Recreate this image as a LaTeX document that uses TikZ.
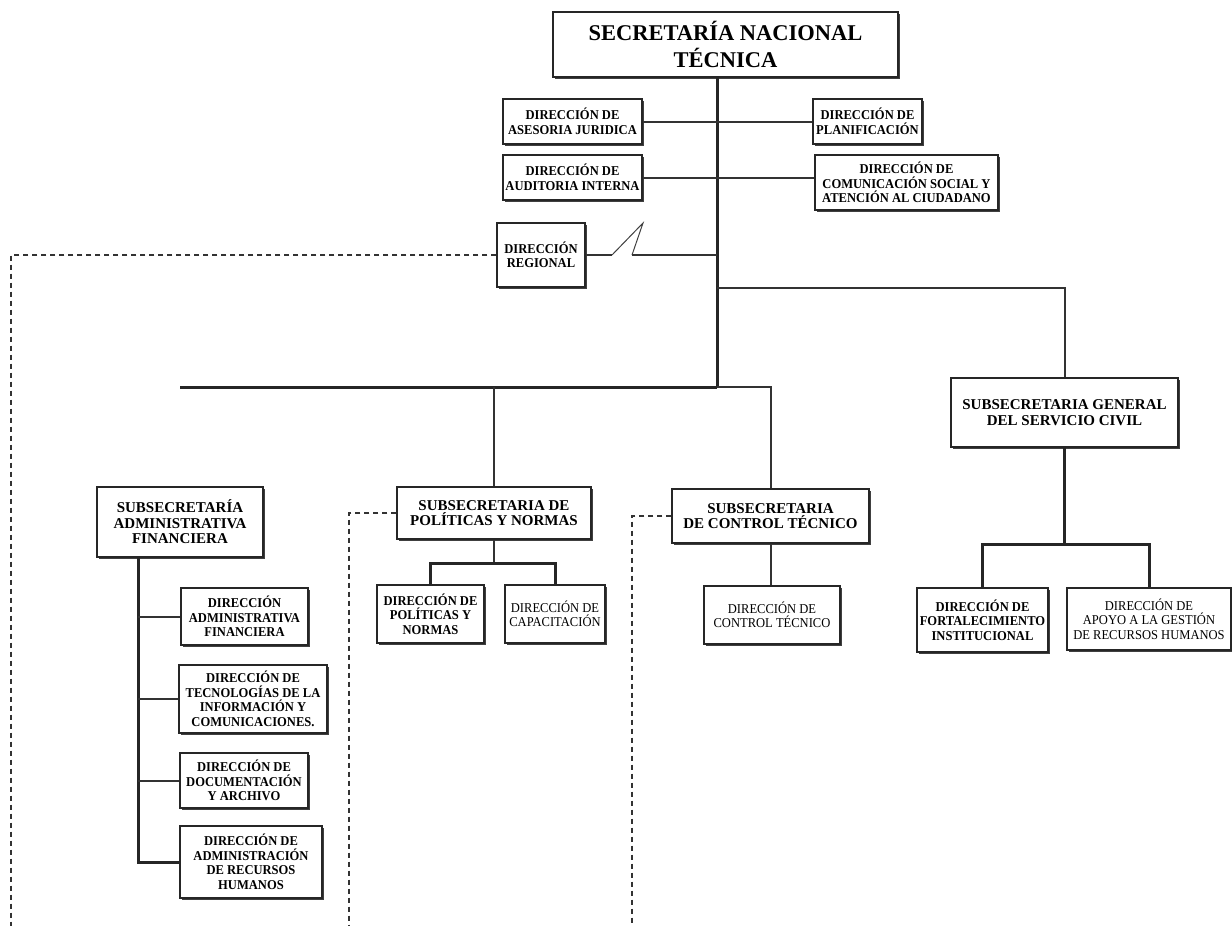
\documentclass[tikz,border=0pt]{standalone}
\usepackage{fontspec}
\setmainfont{Liberation Serif}
\newfontfamily\chica[FakeStretch=0.93]{Liberation Serif}
\usetikzlibrary{shadows}

\tikzset{
  caja/.style={draw=black!85, fill=white, line width=1.2pt, align=center, inner sep=1pt,
    font=\chica\bfseries\fontsize{13.5}{14.5}\selectfont,
    drop shadow={shadow xshift=1.6pt, shadow yshift=-1.6pt, fill=black!75, opacity=1}},
  cajafina/.style={caja, font=\chica\fontsize{13.5}{14.5}\selectfont},
  cajasub/.style={caja, font=\bfseries\fontsize{15}{15.5}\selectfont},
  linea/.style={draw=black!80, line width=2pt},
  tronco/.style={draw=black!85, line width=3pt},
  punteada/.style={draw=black!80, line width=1.4pt, dash pattern=on 5pt off 4pt},
}

\begin{document}
\begin{tikzpicture}[x=1pt, y=-1pt]
    \useasboundingbox (0,0) rectangle (1232,926);

    % Secretaría y eje principal
    \node[caja, font=\bfseries\fontsize{22.5}{27}\selectfont, minimum width=345pt, minimum height=65pt]
        (snt) at (725.5,44.5) {SECRETARÍA NACIONAL\\TÉCNICA};
    \coordinate (t1) at (717,387);   % fin del eje
    \coordinate (t2) at (717,288);   % rama del servicio civil
    \coordinate (barraIzq) at (180,387);

    % Direcciones de asesoría (junto al eje)
    \node[caja, minimum width=139pt, minimum height=45pt] (asesoria) at (572.5,121.5) {DIRECCIÓN DE\\ASESORIA JURIDICA};
    \node[caja, minimum width=109pt, minimum height=45pt] (planif) at (867.5,121.5) {DIRECCIÓN DE\\PLANIFICACIÓN};
    \node[caja, minimum width=139pt, minimum height=45pt] (auditoria) at (572.5,177.5) {DIRECCIÓN DE\\AUDITORIA INTERNA};
    \node[caja, minimum width=183pt, minimum height=55pt] (comunic) at (906.5,182.5) {DIRECCIÓN DE\\COMUNICACIÓN SOCIAL Y\\ATENCIÓN AL CIUDADANO};
    \node[caja, minimum width=88pt, minimum height=64pt] (regional) at (541,255) {DIRECCIÓN\\REGIONAL};

    % Subsecretarías
    \node[cajasub, minimum width=166pt, minimum height=70pt] (adminfin) at (180,522) {SUBSECRETARÍA\\ADMINISTRATIVA\\FINANCIERA};
    \node[cajasub, minimum width=194pt, minimum height=52pt] (politicas) at (494,513) {SUBSECRETARIA DE\\POLÍTICAS Y NORMAS};
    \node[cajasub, minimum width=197pt, minimum height=54pt] (control) at (770.5,516) {SUBSECRETARIA\\DE CONTROL TÉCNICO};
    \node[cajasub, minimum width=227pt, minimum height=69pt] (general) at (1064.5,412.5) {SUBSECRETARIA GENERAL\\DEL SERVICIO CIVIL};

    % Direcciones de cada subsecretaría
    \node[caja, minimum width=127pt, minimum height=57pt] (dafin) at (244.5,616.5) {DIRECCIÓN\\ADMINISTRATIVA\\FINANCIERA};
    \node[caja, minimum width=148pt, minimum height=68pt] (dtic) at (253,699) {DIRECCIÓN DE\\TECNOLOGÍAS DE LA\\INFORMACIÓN Y\\COMUNICACIONES.};
    \node[caja, minimum width=128pt, minimum height=55pt] (ddoc) at (244,780.5) {DIRECCIÓN DE\\DOCUMENTACIÓN\\Y ARCHIVO};
    \node[caja, minimum width=142pt, minimum height=72pt] (drrhh) at (251,862) {DIRECCIÓN DE\\ADMINISTRACIÓN\\DE RECURSOS\\HUMANOS};
    \node[caja, minimum width=107pt, minimum height=58pt] (dpolit) at (430.5,614) {DIRECCIÓN DE\\POLÍTICAS Y\\NORMAS};
    \node[cajafina, minimum width=100pt, minimum height=58pt] (dcapac) at (555,614) {DIRECCIÓN DE\\CAPACITACIÓN};
    \node[cajafina, minimum width=136pt, minimum height=58pt] (dcontrol) at (772,615) {DIRECCIÓN DE\\CONTROL TÉCNICO};
    \node[caja, minimum width=131pt, minimum height=64pt] (dfort) at (982.5,620) {DIRECCIÓN DE\\FORTALECIMIENTO\\INSTITUCIONAL};
    \node[cajafina, minimum width=164pt, minimum height=62pt] (dapoyo) at (1149,619) {DIRECCIÓN DE\\APOYO A LA GESTIÓN\\DE RECURSOS HUMANOS};

    % Eje y barra principal
    \draw[tronco] (snt.south -| t1) -- (t1);
    \draw[tronco] (barraIzq) -- (t1);
    \draw[linea] (t1) -| (control.north);
    \draw[linea] (politicas.north |- t1) -- (politicas.north);
    \draw[linea] (t2) -| (general.north);

    % Asesorías
    \draw[linea] (asesoria.east) -- (planif.west);
    \draw[linea] (auditoria.east) -- (auditoria.east -| comunic.west);

    % Regional (con quiebre)
    \coordinate (zA) at (612,255);
    \coordinate (zB) at (643,223);
    \coordinate (zC) at (632,255);
    \draw[linea] (regional.east) -- (zA);
    \draw[draw=black!75, line width=1pt] (zA) -- (zB) -- (zC);
    \draw[linea] (zC) -- (zC -| t1);

    % Administrativa financiera
    \coordinate (ejeA) at (138,557);
    \draw[tronco] (ejeA) |- (drrhh.west);
    \foreach \n in {dafin, dtic, ddoc}
        \draw[linea] (\n.west -| ejeA) -- (\n.west);

    % Políticas y normas
    \coordinate (pb) at (492,563);
    \draw[linea] (politicas.south) -- (politicas.south |- pb);
    \draw[tronco] (dpolit.north) |- (pb) -| (dcapac.north);

    % Control técnico
    \draw[linea] (control.south) -- (control.south |- dcontrol.north);

    % Servicio civil
    \coordinate (gb) at (1062,544);
    \draw[tronco] (general.south) -- (general.south |- gb);
    \draw[tronco] (dfort.north) |- (gb) -| (dapoyo.north);

    % Líneas punteadas hacia abajo
    \coordinate (pieA) at (11,926);
    \coordinate (pieB) at (349,926);
    \coordinate (pieC) at (632,926);
    \draw[punteada] (regional.west) -| (pieA);
    \draw[punteada] (politicas.west) -| (pieB);
    \draw[punteada] (control.west) -| (pieC);

\end{tikzpicture}
\end{document}
